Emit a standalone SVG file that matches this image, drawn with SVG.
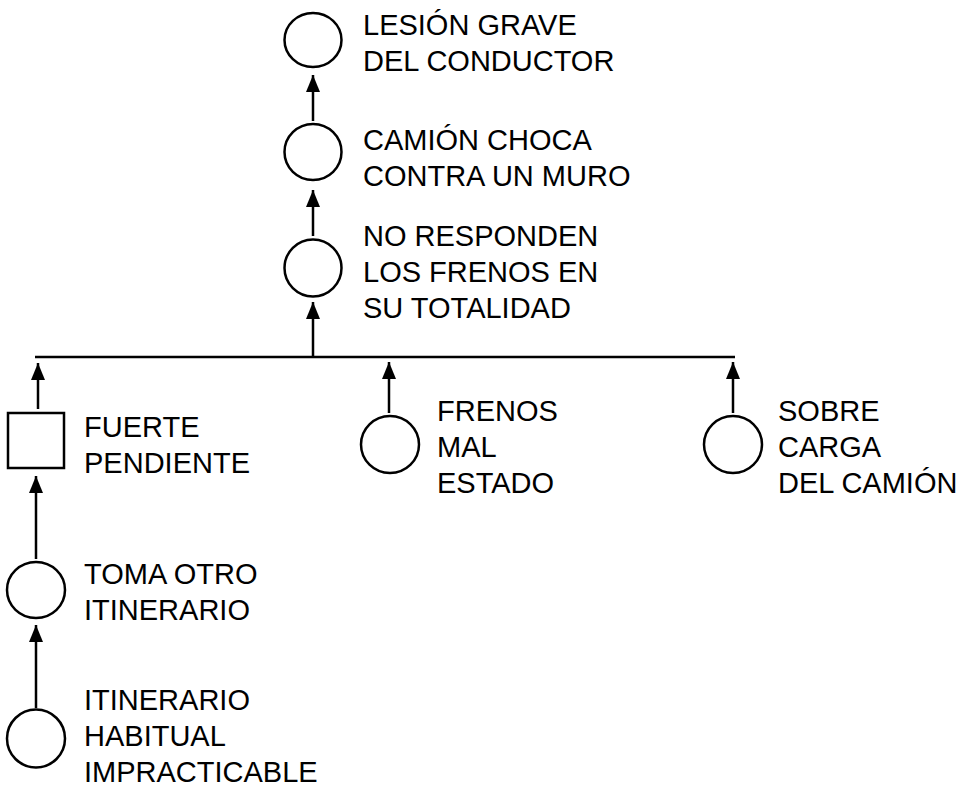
<svg xmlns="http://www.w3.org/2000/svg" width="972" height="788" viewBox="0 0 972 788">
<style>
.n{fill:#fff;stroke:#000;stroke-width:2.5}
.t{font-family:"Liberation Sans",Arial,sans-serif;font-size:29px;fill:#000}
.c{stroke:#000;stroke-width:2.5;fill:none}
</style>
<defs>
<marker id="ah" markerUnits="userSpaceOnUse" markerWidth="17" markerHeight="14" refX="17" refY="7" orient="auto">
<path d="M0,0 L17,7 L0,14 z" fill="#000"/>
</marker>
</defs>
<rect width="972" height="788" fill="#fff"/>
<g id="connectors">
<line class="c" x1="313" y1="121" x2="313" y2="75" marker-end="url(#ah)"/>
<line class="c" x1="313" y1="236" x2="313" y2="190" marker-end="url(#ah)"/>
<line class="c" x1="313" y1="357" x2="313" y2="302" marker-end="url(#ah)"/>
<line class="c" x1="35" y1="357" x2="735" y2="357"/>
<line class="c" x1="38" y1="409" x2="38" y2="363" marker-end="url(#ah)"/>
<line class="c" x1="389" y1="413" x2="389" y2="362" marker-end="url(#ah)"/>
<line class="c" x1="733" y1="413" x2="733" y2="362" marker-end="url(#ah)"/>
<line class="c" x1="36" y1="559" x2="36" y2="476" marker-end="url(#ah)"/>
<line class="c" x1="36" y1="708" x2="36" y2="625" marker-end="url(#ah)"/>
</g>
<g id="n1"><ellipse class="n" cx="313" cy="40" rx="28.5" ry="27"/>
<text class="t" x="363" y="35">LESIÓN GRAVE</text><text class="t" x="363" y="71">DEL CONDUCTOR</text></g>
<g id="n2"><ellipse class="n" cx="313" cy="152" rx="28.5" ry="28"/>
<text class="t" x="363" y="150">CAMIÓN CHOCA</text><text class="t" x="363" y="186">CONTRA UN MURO</text></g>
<g id="n3"><ellipse class="n" cx="313" cy="268" rx="28.5" ry="28.5"/>
<text class="t" x="363" y="246">NO RESPONDEN</text><text class="t" x="363" y="282">LOS FRENOS EN</text><text class="t" x="363" y="318">SU TOTALIDAD</text></g>
<g id="n4"><rect class="n" x="8" y="413" width="56" height="55"/>
<text class="t" x="84" y="437">FUERTE</text><text class="t" x="84" y="473">PENDIENTE</text></g>
<g id="n5"><ellipse class="n" cx="390" cy="444.5" rx="29" ry="28.5"/>
<text class="t" x="437" y="421">FRENOS</text><text class="t" x="437" y="457">MAL</text><text class="t" x="437" y="493">ESTADO</text></g>
<g id="n6"><ellipse class="n" cx="733" cy="444.5" rx="29" ry="28.5"/>
<text class="t" x="778" y="421">SOBRE</text><text class="t" x="778" y="457">CARGA</text><text class="t" x="778" y="493">DEL CAMIÓN</text></g>
<g id="n7"><ellipse class="n" cx="36" cy="590" rx="29" ry="28"/>
<text class="t" x="84" y="584">TOMA OTRO</text><text class="t" x="84" y="620">ITINERARIO</text></g>
<g id="n8"><ellipse class="n" cx="36" cy="738.5" rx="29" ry="29"/>
<text class="t" x="84" y="710">ITINERARIO</text><text class="t" x="84" y="746">HABITUAL</text><text class="t" x="84" y="782">IMPRACTICABLE</text></g>
</svg>
